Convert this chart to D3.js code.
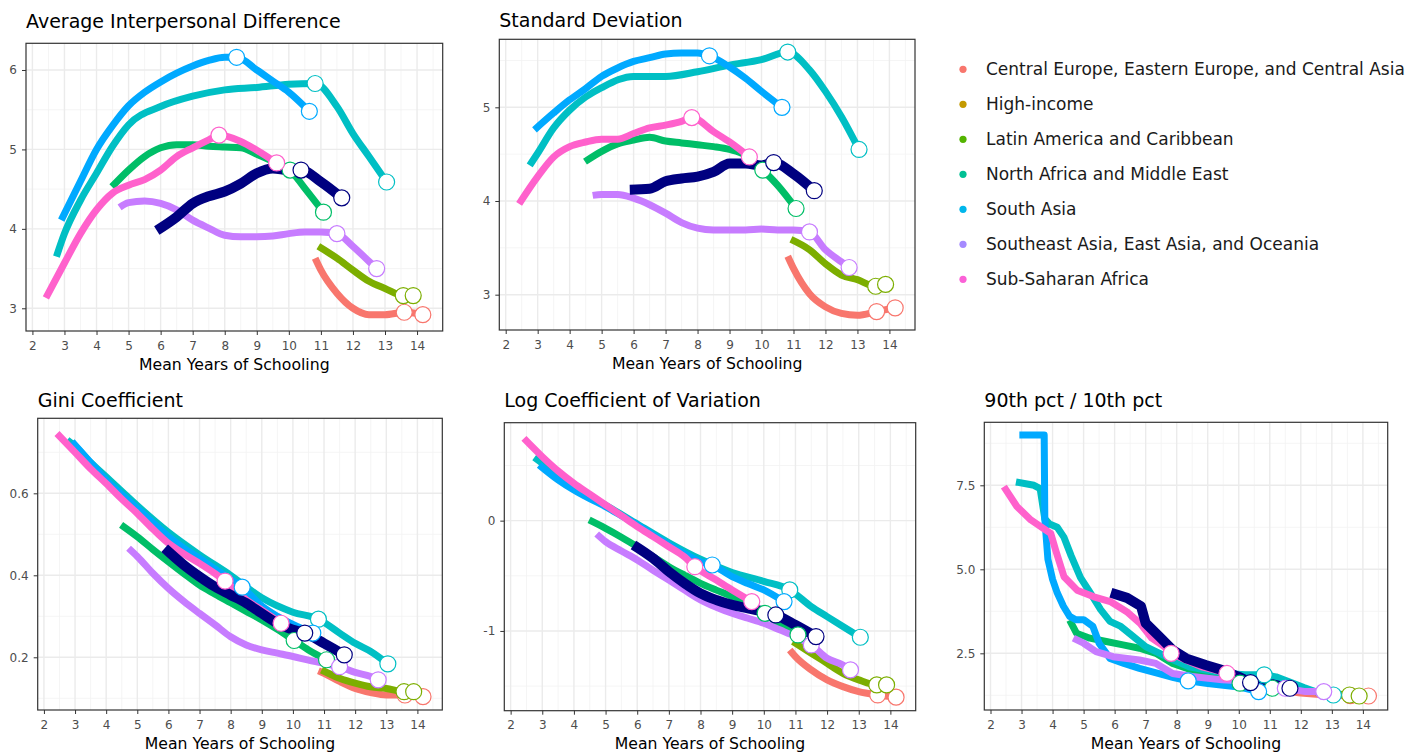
<!DOCTYPE html>
<html><head><meta charset="utf-8">
<script src="https://cdn.jsdelivr.net/npm/d3@7"></script>
<style>body{margin:0;background:#fff;} svg{display:block;font-family:"DejaVu Sans",sans-serif;}</style>
</head><body><svg id="chart" width="1426" height="755"></svg>
<script>
// ---------- legend ----------
const regionNames = ["Central Europe, Eastern Europe, and Central Asia","High-income","Latin America and Caribbean","North Africa and Middle East","South Asia","Southeast Asia, East Asia, and Oceania","Sub-Saharan Africa"];
const legendColors = ["#F8766D","#C49A00","#53B400","#00C094","#00B6EB","#A58AFF","#FB61D7"];

// ---------- series (order: CEE, HI, LAC, NAME, SA, SEA, SSA, Other) ----------
const seriesKeys = ["CEE","HI","LAC","NAME","SA","SEA","SSA","Other"];
const lineColors = ["#F8766D","#7CAE00","#00BE67","#00BFC4","#00A9FF","#C77CFF","#FF61CC","#000080"];

// Mean years of schooling (x) per series, shared by the four smooth panels
const schoolingX = [
  [10.82, 11, 11.5, 12, 12.5, 13, 13.6, 14.18],
  [10.92, 11.5, 12, 12.5, 13, 13.57, 13.88],
  [4.48, 5, 5.5, 6, 6.5, 7, 7.5, 8, 8.5, 9, 9.5, 10.04, 10.5, 11.08],
  [2.75, 3, 3.5, 4, 4.5, 5, 6, 7, 8, 9, 10, 10.82, 11.5, 12, 12.5, 13.05],
  [2.9, 3.5, 4, 4.5, 5, 5.5, 6, 6.5, 7, 7.5, 8, 8.37, 9, 9.5, 10, 10.64],
  [4.72, 5, 5.5, 6, 6.5, 7, 7.5, 8, 8.5, 9, 9.5, 10, 10.5, 11, 11.5, 12, 12.5, 12.74],
  [2.42, 3, 3.5, 4, 4.5, 5, 5.5, 6, 6.5, 7, 7.5, 7.82, 8.5, 9, 9.62],
  [5.88, 6.5, 7, 7.5, 8, 8.5, 9, 9.5, 10, 10.38, 11, 11.65]
];
// Open circles marked along each series (x positions)
const circleX = [[13.6, 14.18],[13.57, 13.88],[10.04, 11.08],[10.82, 13.05],[8.37, 10.64],[11.5, 12.74],[7.82, 9.62],[10.38, 11.65]];

const aipdY = [
  [3.63, 3.48, 3.19, 3.0, 2.92, 2.92, 2.95, 2.92],
  [3.78, 3.63, 3.48, 3.34, 3.25, 3.16, 3.16],
  [4.53, 4.74, 4.91, 5.02, 5.06, 5.06, 5.04, 5.03, 5.02, 4.94, 4.85, 4.74, 4.51, 4.21],
  [3.65, 3.94, 4.36, 4.70, 5.04, 5.31, 5.54, 5.67, 5.75, 5.78, 5.82, 5.83, 5.54, 5.2, 4.91, 4.59],
  [4.11, 4.6, 5.0, 5.3, 5.55, 5.72, 5.85, 5.96, 6.05, 6.12, 6.16, 6.16, 6.0, 5.86, 5.72, 5.48],
  [4.27, 4.33, 4.35, 4.32, 4.24, 4.11, 4.01, 3.92, 3.90, 3.90, 3.91, 3.94, 3.96, 3.96, 3.94, 3.78, 3.59, 3.50],
  [3.13, 3.57, 3.94, 4.24, 4.45, 4.55, 4.62, 4.74, 4.91, 5.02, 5.12, 5.18, 5.10, 4.99, 4.83],
  [3.98, 4.15, 4.32, 4.41, 4.47, 4.57, 4.70, 4.76, 4.74, 4.74, 4.59, 4.39]
];
const sdY = [
  [3.41, 3.28, 3.01, 2.87, 2.80, 2.78, 2.82, 2.86],
  [3.59, 3.48, 3.33, 3.21, 3.16, 3.09, 3.11],
  [4.42, 4.53, 4.61, 4.65, 4.68, 4.64, 4.62, 4.60, 4.58, 4.55, 4.49, 4.33, 4.17, 3.92],
  [4.38, 4.51, 4.78, 4.97, 5.11, 5.21, 5.33, 5.33, 5.38, 5.45, 5.51, 5.59, 5.40, 5.17, 4.90, 4.55],
  [4.76, 4.94, 5.08, 5.20, 5.33, 5.42, 5.49, 5.53, 5.57, 5.58, 5.58, 5.55, 5.43, 5.31, 5.17, 5.0],
  [4.06, 4.07, 4.07, 4.03, 3.96, 3.87, 3.77, 3.71, 3.69, 3.69, 3.69, 3.70, 3.69, 3.69, 3.67, 3.48, 3.35, 3.29],
  [3.97, 4.26, 4.47, 4.58, 4.63, 4.66, 4.66, 4.72, 4.78, 4.81, 4.85, 4.89, 4.74, 4.63, 4.47],
  [4.12, 4.13, 4.21, 4.24, 4.26, 4.31, 4.40, 4.40, 4.38, 4.41, 4.29, 4.11]
];
const giniY = [
  [0.167, 0.161, 0.141, 0.124, 0.114, 0.108, 0.108, 0.104],
  [0.169, 0.149, 0.137, 0.128, 0.124, 0.116, 0.116],
  [0.523, 0.494, 0.463, 0.433, 0.404, 0.376, 0.354, 0.333, 0.312, 0.291, 0.268, 0.241, 0.218, 0.194],
  [0.73, 0.715, 0.675, 0.64, 0.605, 0.57, 0.505, 0.45, 0.40, 0.345, 0.31, 0.293, 0.259, 0.234, 0.214, 0.184],
  [0.726, 0.675, 0.632, 0.597, 0.563, 0.528, 0.494, 0.466, 0.441, 0.415, 0.39, 0.371, 0.325, 0.30, 0.28, 0.259],
  [0.466, 0.446, 0.405, 0.368, 0.336, 0.307, 0.279, 0.250, 0.230, 0.218, 0.210, 0.202, 0.193, 0.185, 0.177, 0.163, 0.153, 0.145],
  [0.746, 0.70, 0.66, 0.624, 0.586, 0.551, 0.513, 0.478, 0.452, 0.429, 0.404, 0.386, 0.34, 0.315, 0.283],
  [0.466, 0.425, 0.397, 0.372, 0.352, 0.332, 0.307, 0.283, 0.267, 0.259, 0.234, 0.206]
];
const logcvY = [
  [-1.172, -1.233, -1.353, -1.444, -1.505, -1.55, -1.58, -1.60],
  [-1.097, -1.202, -1.293, -1.384, -1.444, -1.489, -1.489],
  [0.006, -0.07, -0.15, -0.236, -0.326, -0.417, -0.495, -0.568, -0.63, -0.689, -0.764, -0.84, -0.946, -1.036],
  [0.574, 0.52, 0.40, 0.30, 0.22, 0.14, -0.03, -0.2, -0.35, -0.47, -0.55, -0.628, -0.779, -0.87, -0.96, -1.057],
  [0.505, 0.37, 0.278, 0.2, 0.127, 0.045, -0.039, -0.13, -0.22, -0.3, -0.372, -0.402, -0.508, -0.57, -0.628, -0.734],
  [-0.121, -0.19, -0.275, -0.356, -0.45, -0.538, -0.63, -0.719, -0.785, -0.84, -0.885, -0.93, -0.99, -1.051, -1.127, -1.248, -1.308, -1.353],
  [0.746, 0.58, 0.45, 0.338, 0.24, 0.142, 0.045, -0.054, -0.145, -0.236, -0.33, -0.417, -0.538, -0.628, -0.734],
  [-0.22, -0.341, -0.462, -0.568, -0.659, -0.719, -0.764, -0.795, -0.825, -0.855, -0.946, -1.051]
];
// 90th / 10th percentile ratio: its own, finer x sampling (stepped lines)
const p9010X = [
  [10.82, 11.5, 12.0, 12.5, 13.0, 13.6, 14.18],
  [10.92, 11.5, 12.0, 12.5, 13.0, 13.57, 13.88],
  [4.55, 4.77, 5.2, 5.73, 6.27, 6.8, 7.33, 7.87, 8.5, 9.15, 10.04, 10.55, 11.08],
  [2.82, 3.4, 3.6, 3.75, 3.9, 4.15, 4.37, 4.6, 4.9, 5.25, 5.55, 5.85, 6.2, 6.6, 7.0, 7.45, 7.9, 8.4, 8.95, 9.6, 10.2, 10.82, 11.2, 11.6, 12.1, 12.6, 13.05],
  [2.93, 3.73, 3.75, 3.85, 4.0, 4.15, 4.35, 4.55, 4.75, 5.0, 5.3, 5.5, 5.85, 6.3, 6.8, 7.4, 7.9, 8.37, 9.0, 10.0, 10.64],
  [4.67, 5.0, 5.4, 5.95, 6.8, 7.33, 7.87, 8.5, 9.47, 10.5, 11.5, 12.15, 12.74],
  [2.43, 2.85, 3.3, 3.7, 3.94, 4.1, 4.37, 4.79, 5.33, 5.86, 6.39, 6.82, 7.2, 7.6, 7.82, 8.3, 8.8, 9.25, 9.62],
  [5.88, 6.4, 6.85, 7.0, 7.44, 7.87, 8.3, 8.93, 9.47, 10.0, 10.38, 11.07, 11.65]
];
const p9010Y = [
  [1.45, 1.38, 1.32, 1.28, 1.25, 1.24, 1.23],
  [1.55, 1.48, 1.42, 1.36, 1.30, 1.26, 1.23],
  [3.49, 3.1, 2.95, 2.85, 2.75, 2.65, 2.5, 2.2, 2.0, 1.9, 1.61, 1.55, 1.46],
  [7.6, 7.5, 7.4, 6.5, 6.35, 6.25, 5.95, 5.4, 4.75, 4.25, 3.8, 3.45, 3.3, 3.0, 2.7, 2.5, 2.3, 2.1, 2.0, 1.9, 1.86, 1.86, 1.8, 1.66, 1.48, 1.32, 1.26],
  [9.0, 9.0, 6.5, 5.3, 4.7, 4.3, 3.9, 3.6, 3.5, 3.5, 3.3, 2.8, 2.35, 2.2, 2.05, 1.9, 1.78, 1.68, 1.6, 1.5, 1.36],
  [2.95, 2.8, 2.55, 2.4, 2.3, 2.2, 1.9, 1.81, 1.71, 1.66, 1.46, 1.36, 1.36],
  [7.46, 6.87, 6.47, 6.22, 6.07, 5.57, 4.78, 4.38, 4.18, 4.04, 3.74, 3.39, 2.95, 2.7, 2.5, 2.3, 2.1, 2.0, 1.9],
  [4.3, 4.15, 3.9, 3.4, 3.0, 2.6, 2.35, 2.15, 2.0, 1.8, 1.63, 1.58, 1.46]
];

// ---------- ticks ----------
const schoolingTicks = [2,3,4,5,6,7,8,9,10,11,12,13,14];
const schoolingMinor = [2.5,3.5,4.5,5.5,6.5,7.5,8.5,9.5,10.5,11.5,12.5,13.5,14.5];
const aipdTicks = [3,4,5,6], aipdMinor = [3.5,4.5,5.5];
const sdTicks = [3,4,5], sdMinor = [3.5,4.5,5.5];
const giniTicks = [0.2,0.4,0.6], giniMinor = [0.1,0.3,0.5,0.7];
const logcvTicks = [-1,0], logcvMinor = [-1.5,-0.5,0.5];
const p9010Ticks = [2.5,5.0,7.5], p9010Minor = [1.25,3.75,6.25,8.75];

// ---------- layout ----------
const FONT = "'DejaVu Sans', sans-serif";
const xDomain = [1.80, 14.80];
const panels = [
  {title:"Average Interpersonal Difference", xs:schoolingX, ys:aipdY, box:[26,43.3,442.7,331], yDomain:[2.714,6.336], ticks:aipdTicks, minor:aipdMinor, fmt:d=>String(d), titleY:28.3, curve:d3.curveMonotoneX},
  {title:"Standard Deviation", xs:schoolingX, ys:sdY, box:[499.3,39.3,915,330], yDomain:[2.623,5.726], ticks:sdTicks, minor:sdMinor, fmt:d=>String(d), titleY:27.3, curve:d3.curveMonotoneX},
  {title:"Gini Coefficient", xs:schoolingX, ys:giniY, box:[37.7,418.3,442.3,710], yDomain:[0.0714,0.783], ticks:giniTicks, minor:giniMinor, fmt:d=>d.toFixed(1), titleY:407.3, curve:d3.curveMonotoneX},
  {title:"Log Coefficient of Variation", xs:schoolingX, ys:logcvY, box:[504.3,422.7,915.7,710.7], yDomain:[-1.723,0.888], ticks:logcvTicks, minor:logcvMinor, fmt:d=>String(d), titleY:406.7, curve:d3.curveMonotoneX},
  {title:"90th pct / 10th pct", xs:p9010X, ys:p9010Y, box:[984.3,422.3,1387.7,710], yDomain:[0.813,9.375], ticks:p9010Ticks, minor:p9010Minor, fmt:d=>d.toFixed(1), titleY:407.3, curve:d3.curveLinear}
];

const svg = d3.select("#chart");
svg.append("rect").attr("width",1426).attr("height",755).attr("fill","#fff");

panels.forEach(p => {
  const [l,t,r,b] = p.box;
  const x = d3.scaleLinear().domain(xDomain).range([l,r]);
  const y = d3.scaleLinear().domain(p.yDomain).range([b,t]);
  const g = svg.append("g");

  // grid
  g.selectAll(".vminor").data(schoolingMinor).join("line")
    .attr("x1",d=>x(d)).attr("x2",d=>x(d)).attr("y1",t).attr("y2",b)
    .attr("stroke","#F2F2F2").attr("stroke-width",0.8);
  g.selectAll(".hminor").data(p.minor).join("line")
    .attr("y1",d=>y(d)).attr("y2",d=>y(d)).attr("x1",l).attr("x2",r)
    .attr("stroke","#F2F2F2").attr("stroke-width",0.8);
  g.selectAll(".vmajor").data(schoolingTicks).join("line")
    .attr("x1",d=>x(d)).attr("x2",d=>x(d)).attr("y1",t).attr("y2",b)
    .attr("stroke","#EBEBEB").attr("stroke-width",1.4);
  g.selectAll(".hmajor").data(p.ticks).join("line")
    .attr("y1",d=>y(d)).attr("y2",d=>y(d)).attr("x1",l).attr("x2",r)
    .attr("stroke","#EBEBEB").attr("stroke-width",1.4);

  // lines
  const line = d3.line().x(d=>x(d[0])).y(d=>y(d[1])).curve(p.curve);
  const series = seriesKeys.map((k,i) => ({key:k, color:lineColors[i], pts:p.xs[i].map((xv,j)=>[xv,p.ys[i][j]]), cx:circleX[i]}));
  g.selectAll(".series").data(series).join("path")
    .attr("d",d=>line(d.pts)).attr("fill","none")
    .attr("stroke",d=>d.color).attr("stroke-width",d=>d.key==="Other"?10:7)
    .attr("stroke-linejoin","round").attr("stroke-linecap","butt");

  // open circles
  const circ = [];
  series.forEach(s => s.cx.forEach(cx => {
    let j = d3.minIndex(s.pts, q => Math.abs(q[0]-cx));
    circ.push({color:s.color, pt:s.pts[j]});
  }));
  g.selectAll(".pt").data(circ).join("circle")
    .attr("cx",d=>x(d.pt[0])).attr("cy",d=>y(d.pt[1])).attr("r",8)
    .attr("fill","#fff").attr("stroke",d=>d.color).attr("stroke-width",1.2);

  // border
  g.append("rect").attr("x",l).attr("y",t).attr("width",r-l).attr("height",b-t)
    .attr("fill","none").attr("stroke","#333").attr("stroke-width",1.2);

  // axes
  const ax = g.append("g").attr("transform",`translate(0,${b})`)
    .call(d3.axisBottom(x).tickValues(schoolingTicks).tickSize(4).tickPadding(6).tickFormat(d=>String(d)));
  const ay = g.append("g").attr("transform",`translate(${l},0)`)
    .call(d3.axisLeft(y).tickValues(p.ticks).tickSize(4).tickPadding(5).tickFormat(p.fmt));
  [ax,ay].forEach(a => {
    a.select(".domain").remove();
    a.selectAll("line").attr("stroke","#333").attr("stroke-width",1);
    a.selectAll("text").attr("fill","#4D4D4D").attr("font-size",12).attr("font-family",FONT);
  });

  // titles
  g.append("text").attr("x",l).attr("y",p.titleY).text(p.title)
    .attr("font-size",19).attr("font-family",FONT).attr("fill","#000");
  g.append("text").attr("x",(l+r)/2).attr("y",b+38.5).attr("text-anchor","middle")
    .text("Mean Years of Schooling").attr("font-size",15.7).attr("font-family",FONT).attr("fill","#000");
});

// legend
const lg = svg.append("g");
const items = lg.selectAll(".item").data(regionNames).join("g")
  .attr("transform",(d,i)=>`translate(963,${69.3 + i*35})`);
items.append("circle").attr("r",3.6).attr("fill",(d,i)=>legendColors[i]);
items.append("text").attr("x",23).attr("dy","0.36em").text(d=>d)
  .attr("font-size",17).attr("font-family",FONT).attr("fill","#1A1A1A");
</script></body></html>
